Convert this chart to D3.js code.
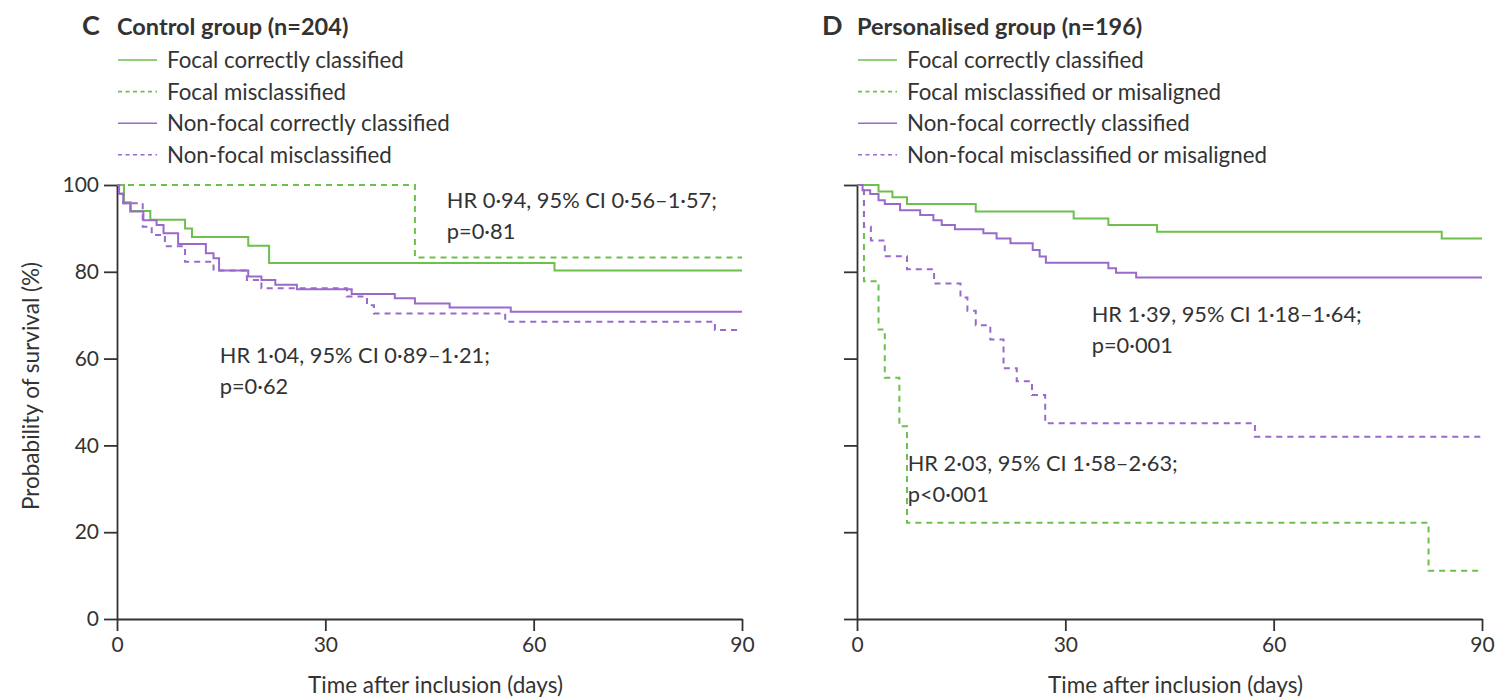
<!DOCTYPE html>
<html>
<head>
<meta charset="utf-8">
<script src="https://cdn.jsdelivr.net/npm/d3@7"></script>
<style>
  body { margin: 0; background: #fff; }
  svg text { font-family: Lato, "Open Sans", sans-serif; fill: #333; }
</style>
</head>
<body>
<div id="chart"></div>
<script>
// Kaplan-Meier curves, [day, survival %]
const controlFocalCorrect = [[0,100],[1,96],[2,94],[4.8,92],[9.8,90],[10.8,88],[18.9,86],[21.9,82],[63,80.3],[90,80.3]];
const controlFocalMis = [[0,100],[42.9,83.3],[90,83.3]];
const controlNonFocalCorrect = [[0,100],[0.3,98],[0.9,95.8],[1.9,93.9],[3.8,91.9],[5.7,90.8],[6.7,88.9],[8.8,86.4],[12.8,84.3],[13.9,83.1],[14.7,80.3],[18.9,78.9],[20.8,78.1],[22.8,77.0],[25.9,76.0],[33.8,74.9],[40,73.9],[42.9,72.7],[47.9,71.8],[56.7,70.8],[90,70.8]];
const controlNonFocalMis = [[0,100],[0.3,98],[0.9,95.8],[3.7,90.4],[5.0,88.5],[6.9,85.9],[9.8,82.3],[13.9,80.3],[18.7,78.1],[20.8,76.2],[33.1,74.3],[36,72.3],[37,70.4],[55.9,68.5],[86.1,66.6],[90,66.6]];

const persFocalCorrect = [[0,100],[3.1,98.5],[5.1,97.2],[7.2,95.6],[17.1,93.9],[31.2,92.3],[36.2,90.8],[43.2,89.2],[84.2,87.7],[90,87.7]];
const persFocalMis = [[0,100],[1.0,77.8],[3.1,66.7],[4.0,55.6],[6.1,44.4],[7.2,22.2],[82.3,11.1],[90,11.1]];
const persNonFocalCorrect = [[0,100],[0.8,98.8],[1.9,97.9],[3.1,96.5],[4.0,95.6],[6.2,94.2],[9.1,93.1],[11,91.9],[12.2,90.8],[14.1,89.8],[18.2,88.9],[20.1,87.7],[22.1,86.6],[25.3,85.0],[26.3,83.5],[27.2,82.1],[36.2,80.8],[37.3,79.8],[40.2,78.7],[90,78.7]];
const persNonFocalMis = [[0,100],[1.0,90.4],[2.0,87.2],[4.0,83.6],[7.2,80.6],[11.1,77.3],[14.9,74.1],[15.9,71.0],[17.1,67.7],[19.2,64.4],[21.1,57.8],[23.0,54.8],[25.2,51.6],[27.1,45.1],[57.3,42.0],[90,42.0]];

const xTicks = [0, 30, 60, 90];
const yTicks = [0, 20, 40, 60, 80, 100];

const controlLegend = ["Focal correctly classified", "Focal misclassified", "Non-focal correctly classified", "Non-focal misclassified"];
const persLegend = ["Focal correctly classified", "Focal misclassified or misaligned", "Non-focal correctly classified", "Non-focal misclassified or misaligned"];

const green = "#6dc04b", purple = "#9a6acb";
const styles = [
    {color: green, dash: null},
    {color: green, dash: "6,5"},
    {color: purple, dash: null},
    {color: purple, dash: "6,5"}
];

const panels = [
    {letter: "C", title: "Control group (n=204)", left: 117, legend: controlLegend,
     curves: [controlFocalCorrect, controlFocalMis, controlNonFocalCorrect, controlNonFocalMis],
     yLabels: true,
     notes: [
        {x: 47.5, y: 94.7, lines: ["HR 0·94, 95% CI 0·56–1·57;", "p=0·81"]},
        {x: 14.8, y: 59.0, lines: ["HR 1·04, 95% CI 0·89–1·21;", "p=0·62"]}
     ]},
    {letter: "D", title: "Personalised group (n=196)", left: 857, legend: persLegend,
     curves: [persFocalCorrect, persFocalMis, persNonFocalCorrect, persNonFocalMis],
     yLabels: false,
     notes: [
        {x: 33.8, y: 68.4, lines: ["HR 1·39, 95% CI 1·18–1·64;", "p=0·001"]},
        {x: 7.3, y: 34.1, lines: ["HR 2·03, 95% CI 1·58–2·63;", "p<0·001"]}
     ]}
];

const W = 1503, H = 698;
const plotW = 625, plotTop = 185, plotBottom = 619;

const svg = d3.select("#chart").append("svg")
    .attr("width", W)
    .attr("height", H);

panels.forEach(function(p) {
    let x = d3.scaleLinear().domain([0, 90]).range([p.left, p.left + plotW]);
    let y = d3.scaleLinear().domain([0, 100]).range([plotBottom, plotTop]);

    let g = svg.append("g");

    // title
    g.append("text")
        .attr("x", p.left - 35)
        .attr("y", 35)
        .attr("font-size", 27)
        .attr("font-weight", "bold")
        .text(p.letter);
    g.append("text")
        .attr("x", p.left)
        .attr("y", 35)
        .attr("font-size", 23.5)
        .attr("font-weight", "bold")
        .text(p.title);

    // legend
    let leg = g.selectAll(".leg")
        .data(p.legend)
        .enter().append("g")
        .attr("transform", function(d, i) { return "translate(" + p.left + "," + (60 + i * 31.6) + ")"; });
    leg.append("line")
        .attr("x1", 1).attr("x2", 40)
        .attr("stroke", function(d, i) { return styles[i].color; })
        .attr("stroke-width", 1.6)
        .attr("stroke-dasharray", function(d, i) { return styles[i].dash ? "4,3.5" : null; });
    leg.append("text")
        .attr("x", 50)
        .attr("y", 8)
        .attr("font-size", 22.3)
        .text(function(d) { return d; });

    // axes
    let yAxis = g.append("g")
        .attr("transform", "translate(" + p.left + ",0)")
        .call(d3.axisLeft(y).tickValues(yTicks).tickSizeInner(13).tickSizeOuter(0).tickPadding(5)
            .tickFormat(p.yLabels ? d3.format("d") : ""));
    let xAxis = g.append("g")
        .attr("transform", "translate(0," + plotBottom + ")")
        .call(d3.axisBottom(x).tickValues(xTicks).tickSizeInner(12).tickSizeOuter(0).tickPadding(6));

    [yAxis, xAxis].forEach(function(a) {
        a.selectAll("path, line").attr("stroke", "#333").attr("stroke-width", 1.8);
        a.selectAll("text").attr("font-size", 21).attr("font-family", "Lato, sans-serif").attr("fill", "#333");
    });

    g.append("text")
        .attr("x", (x(0) + x(90)) / 2 + 6)
        .attr("y", 693)
        .attr("text-anchor", "middle")
        .attr("font-size", 22.5)
        .text("Time after inclusion (days)");

    if (p.yLabels) {
        g.append("text")
            .attr("transform", "translate(39," + 386 + ") rotate(-90)")
            .attr("text-anchor", "middle")
            .attr("font-size", 22.5)
            .text("Probability of survival (%)");
    }

    // curves
    let line = d3.line()
        .x(function(d) { return x(d[0]); })
        .y(function(d) { return y(d[1]); })
        .curve(d3.curveStepAfter);

    g.selectAll(".km")
        .data(p.curves)
        .enter().append("path")
        .attr("class", "km")
        .attr("d", line)
        .attr("fill", "none")
        .attr("stroke", function(d, i) { return styles[i].color; })
        .attr("stroke-width", 2)
        .attr("stroke-dasharray", function(d, i) { return styles[i].dash; });

    // annotations
    p.notes.forEach(function(n) {
        let t = g.append("text")
            .attr("x", x(n.x))
            .attr("y", y(n.y))
            .attr("font-size", 21.8);
        n.lines.forEach(function(s, i) {
            t.append("tspan")
                .attr("x", x(n.x))
                .attr("dy", i === 0 ? 0 : 31)
                .text(s);
        });
    });
});
</script>
</body>
</html>
